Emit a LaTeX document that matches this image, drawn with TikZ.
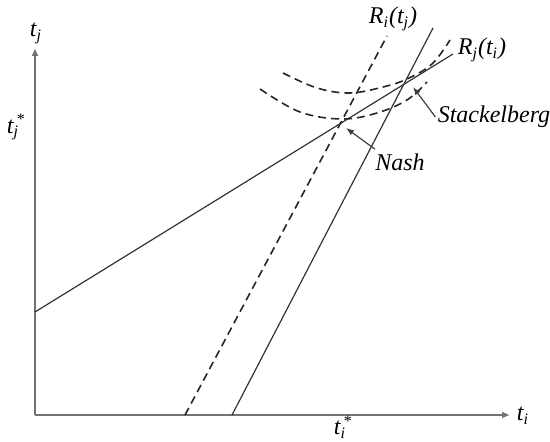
\documentclass[tikz,border=0pt]{standalone}
\usepackage{fontspec}
\setmainfont{Liberation Serif}
\usetikzlibrary{arrows.meta}
\newcommand{\sbx}[1]{\textsubscript{\textit{#1}}}
\newcommand{\starsb}[1]{\textit{t}\rlap{\textsubscript{\textit{#1}}}\textsuperscript{\,*}}
\begin{document}
\begin{tikzpicture}[x=0.5pt,y=-0.5pt,
  axis/.style={draw=black!55,line width=0.8pt,-{Latex[length=4pt,width=3.5pt]}},
  curve/.style={draw=black!80,line width=0.6pt},
  dcurve/.style={draw=black!85,line width=0.8pt,dash pattern=on 4pt off 2.5pt},
  lbl/.style={font=\fontsize{12}{14}\selectfont\itshape,inner sep=1pt},
  ptr/.style={draw=black!75,line width=0.6pt,-{Latex[length=4pt,width=3pt]}}]
\useasboundingbox (0,0) rectangle (550,442);
\coordinate (O) at (35,415);
\coordinate (Ytop) at (35,48);
\coordinate (Xend) at (510,415);
\draw[axis] (O) -- (Ytop);
\draw[axis] (O) -- (Xend);
\node[lbl,anchor=south] (ty) at (36,46) {\textit{t}\sbx{j}};
\node[lbl] (tx) at (523,416) {\textit{t}\sbx{i}};
\node[lbl] (tjs) at (16,127) {\starsb{j}};
\node[lbl] (tis) at (343,427) {\starsb{i}};
% reaction curves
\coordinate (Rj0) at (35,312);
\coordinate (Rj1) at (453,54);
\draw[curve] (Rj0) -- (Rj1);
\coordinate (Ri0) at (232,415);
\coordinate (Ri1) at (433,28);
\draw[curve] (Ri0) -- (Ri1);
\coordinate (Rd0) at (185,415);
\coordinate (Rd1) at (387,36);
\draw[dcurve] (Rd0) -- (Rd1);
% iso-profit curves
\draw[dcurve] plot[smooth,tension=0.6] coordinates {(283,73) (317,88) (350,93) (383,87) (407,79) (432,64) (450,40)};
\draw[dcurve] plot[smooth,tension=0.6] coordinates {(260,89) (300,112) (342,119) (377,113) (407,100) (427,82)};
% labels
\node[lbl] (Ril) at (393,19) {\textit{R}\sbx{i}(\textit{t}\sbx{j})};
\node[lbl] (Rjl) at (482,50) {\textit{R}\sbx{j}(\textit{t}\sbx{i})};
\node[lbl] (nash) at (400,162) {Nash};
\node[lbl] (stack) at (494,117) {Stackelberg};
\coordinate (Np) at (346,128);
\coordinate (Sp) at (413,87);
\draw[ptr] (nash.north west) ++(2,-2) -- (Np);
\draw[ptr] (stack.west) -- (Sp);
\end{tikzpicture}
\end{document}
